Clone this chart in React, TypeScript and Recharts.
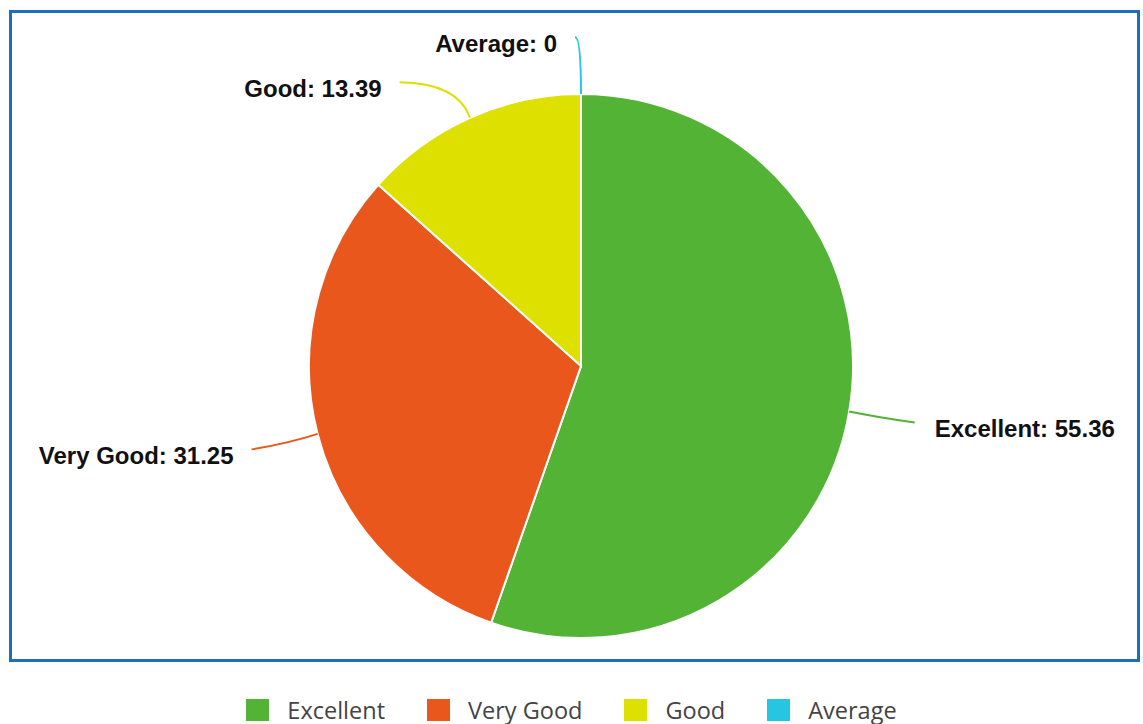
import { PieChart, Pie, Cell, Legend } from 'recharts';

const categories = ['Excellent', 'Very Good', 'Good', 'Average'];
const ratings = [55.36, 31.25, 13.39, 0];
const colors = ['#53b335', '#ea571d', '#dee000', '#26c6e2'];

const data = categories.map((name, i) => ({ name, value: ratings[i] }));

const RAD = Math.PI / 180;

// where each connector ends, relative to the elbow point (layout only)
const labelNudge = [
  [36, 6],
  [-37, 8],
  [-58, -8],
  [-6, -27],
];

function renderLabel(props: any) {
  const { cx, cy, midAngle, outerRadius, index, name, value } = props;
  const cos = Math.cos(-midAngle * RAD);
  const sin = Math.sin(-midAngle * RAD);
  const sx = cx + outerRadius * cos;
  const sy = cy + outerRadius * sin;
  const mx = cx + (outerRadius + 30) * cos;
  const my = cy + (outerRadius + 30) * sin;
  const [dx, dy] = labelNudge[index] || [0, 0];
  const ex = mx + dx;
  const ey = my + dy;
  // steeper connectors bend more, flat ones stay nearly straight
  const qy = my + (ey - my) * Math.abs(sin);
  const right = dx > 0;
  return (
    <g key={`lbl-${index}`}>
      <path
        d={`M${sx},${sy} Q${mx},${qy} ${ex},${ey}`}
        stroke={colors[index]}
        strokeWidth={2}
        fill="none"
      />
      <text
        x={ex + (right ? 20 : -18)}
        y={ey + 6}
        textAnchor={right ? 'start' : 'end'}
        dominantBaseline="central"
        fontFamily="'Liberation Sans', Arial, sans-serif"
        fontWeight="bold"
        fontSize={24}
        fill="#111"
      >
        {`${name}: ${value}`}
      </text>
    </g>
  );
}

function renderLegend() {
  return (
    <div
      style={{
        display: 'flex',
        justifyContent: 'center',
        fontFamily: "'Open Sans', sans-serif",
        fontSize: 23.5,
        lineHeight: '26px',
        color: '#444',
      }}
    >
      {categories.map((name, i) => (
        <div
          key={`leg-${i}`}
          style={{ display: 'flex', alignItems: 'center', marginRight: i < categories.length - 1 ? 42 : 0 }}
        >
          <span
            style={{
              display: 'inline-block',
              width: 23,
              height: 22,
              background: colors[i],
              marginRight: 18,
            }}
          />
          <span>{name}</span>
        </div>
      ))}
    </div>
  );
}

export default function App() {
  return (
    <div style={{ position: 'absolute', left: 0, top: 0, width: 1143, height: 724, background: '#fff' }}>
      <div
        style={{
          position: 'absolute',
          left: 9,
          top: 10,
          width: 1131,
          height: 652,
          boxSizing: 'border-box',
          border: '3px solid #1c6fc0',
        }}
      />
      <PieChart
        width={1143}
        height={724}
        margin={{ top: 0, right: 0, bottom: 0, left: 0 }}
        style={{ position: 'absolute', left: 0, top: 0 }}
      >
        <Pie
          data={data}
          dataKey="value"
          nameKey="name"
          cx={581}
          cy={366}
          outerRadius={272}
          startAngle={90}
          endAngle={-270}
          stroke="#fff"
          strokeWidth={2}
          label={renderLabel}
          labelLine={false}
          isAnimationActive={false}
        >
          {data.map((d, i) => (
            <Cell key={d.name} fill={colors[i]} />
          ))}
        </Pie>
        <Legend
          content={renderLegend}
          wrapperStyle={{ position: 'absolute', left: 0, top: 697, width: 1143 }}
        />
      </PieChart>
    </div>
  );
}
